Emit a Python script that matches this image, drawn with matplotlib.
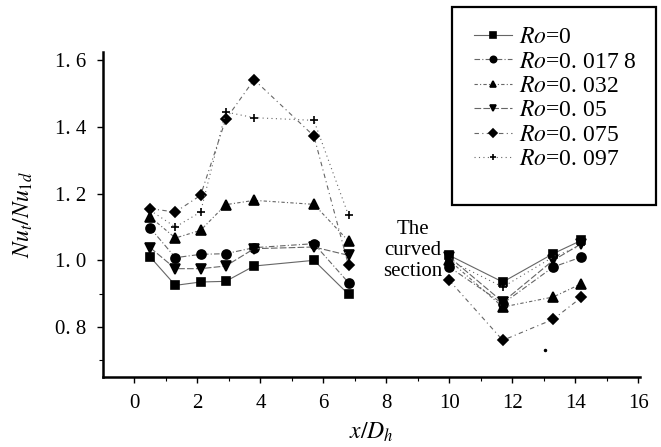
import numpy as np
import matplotlib.pyplot as plt
from matplotlib.patches import Rectangle

plt.rcParams['font.family'] = ['Liberation Serif', 'DejaVu Serif']
plt.rcParams['mathtext.fontset'] = 'stix'

# measured positions x/Dh (straight sections before and after the curved part)
x_vals = [0.5, 1.3, 2.1, 2.9, 3.8, 5.7, 6.8, 10.0, 11.7, 13.3, 14.2]

ro_0 = [1.01, 0.925, 0.935, 0.937, 0.983, 1.00, 0.898, 1.015, 0.935, 1.02, 1.06]
ro_0178 = [1.097, 1.008, 1.018, 1.02, 1.038, 1.05, 0.933, 0.98, 0.87, 0.98, 1.01]
ro_032 = [1.13, 1.067, 1.09, 1.167, 1.18, 1.168, 1.058, 1.0, 0.86, 0.89, 0.93]
ro_05 = [1.038, 0.975, 0.975, 0.983, 1.035, 1.04, 1.015, 1.01, 0.875, 1.0, 1.05]
ro_075 = [1.155, 1.145, 1.195, 1.423, 1.542, 1.373, 0.985, 0.94, 0.76, 0.823, 0.889]
ro_097 = [1.15, 1.10, 1.145, 1.445, 1.428, 1.42, 1.135, 1.0, 0.92, 1.01, 1.045]

# lone point near x=13
stray_x = [13.05]
stray_y = [0.73]

labels = [r'$Ro$=0', r'$Ro$=0. 017 8', r'$Ro$=0. 032', r'$Ro$=0. 05',
          r'$Ro$=0. 075', r'$Ro$=0. 097']
series = [ro_0, ro_0178, ro_032, ro_05, ro_075, ro_097]
markers = ['s', 'o', '^', 'v', 'D', '+']
msizes = [5.5, 6.5, 6.5, 6.5, 5.5, 6]
styles = ['-', (0, (5, 2, 1, 2)), (0, (3, 2, 1, 2)), (0, (6, 2)), (0, (4, 3, 1, 3)), (0, (1, 3))]

fig = plt.figure(figsize=(6.61, 4.47), dpi=100)
ax = fig.add_axes([0.1558, 0.1566, 0.812, 0.727])

n_left = 7
handles = []
for y, m, ms, ls, lab in zip(series, markers, msizes, styles, labels):
    h, = ax.plot(x_vals[:n_left], y[:n_left], linestyle=ls, color='#666666', lw=0.8,
                 marker=m, ms=ms, mfc='black', mec='black', mew=1.2, label=lab)
    ax.plot(x_vals[n_left:], y[n_left:], linestyle=ls, color='#666666', lw=0.8,
            marker=m, ms=ms, mfc='black', mec='black', mew=1.2)
    handles.append(h)

ax.plot(stray_x, stray_y, '.', color='black', ms=3)

ax.set_xlim(-1.0, 16.05)
ax.set_ylim(0.65, 1.625)
ax.set_xticks(np.arange(0, 17, 2))
ax.set_xticks(np.arange(1, 16, 2), minor=True)
ax.set_yticks([0.8, 1.0, 1.2, 1.4, 1.6])
ax.set_yticklabels(['0. 8', '1. 0', '1. 2', '1. 4', '1. 6'])
ax.set_yticks([0.7, 0.9], minor=True)
ax.tick_params(axis='both', which='major', direction='out', length=4, width=1,
               labelsize=15, pad=8)
ax.tick_params(axis='both', which='minor', direction='out', length=3, width=0.8)

for s in ['top', 'right']:
    ax.spines[s].set_visible(False)
for s in ['left', 'bottom']:
    ax.spines[s].set_linewidth(1.8)

ax.set_xlabel(r'$x/D_h$', fontsize=17, labelpad=6)
ax.set_ylabel(r'$Nu_t/Nu_{1d}$', fontsize=17, labelpad=14)

ax.text(8.85, 1.03, 'The\ncurved\nsection', fontsize=15, ha='center', va='center',
        linespacing=1.15)

leg = fig.legend(handles=handles, loc='upper left', bbox_to_anchor=(462 / 661, 1 - 15 / 447),
                 frameon=False, fontsize=17,
                 handlelength=1.6, handletextpad=0.3, labelspacing=0.12,
                 borderpad=0.0, markerscale=0.7)

# legend box drawn separately so it spans to the image edge
fig.patches.append(Rectangle((452 / 661, 1 - 205 / 447), 204 / 661, 198 / 447,
                             transform=fig.transFigure, fill=False,
                             edgecolor='black', lw=1.6))

fig.savefig('out.png', dpi=100)
